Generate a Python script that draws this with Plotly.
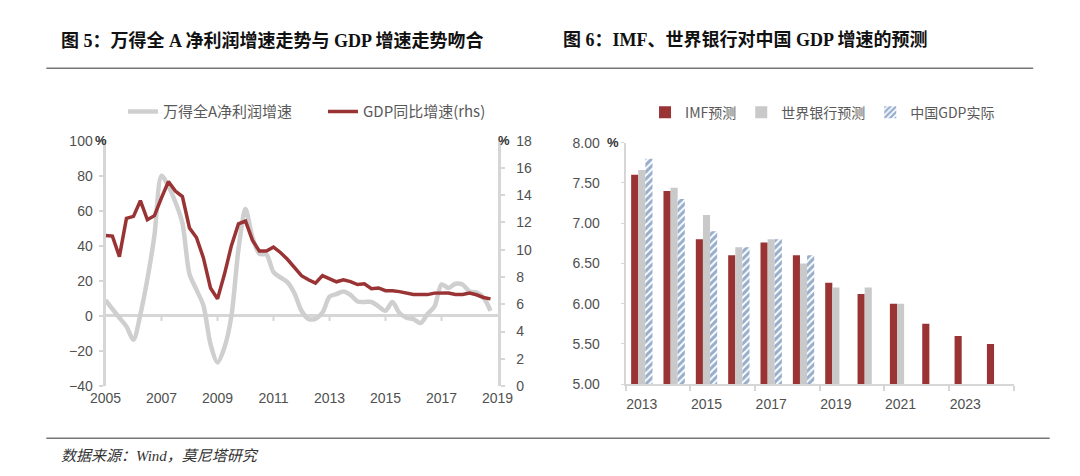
import plotly.graph_objects as go
import pandas as pd

W, H = 1080, 476

# ---------------- Data: left chart (quarterly, 2005Q1 - 2018Q4) ----------------
quarters = pd.date_range("2005-01-01", periods=56, freq="QS")
wind_a_profit_growth = [
    9, 4, -1, -6, -13.5, 1, 21, 46, 80, 74, 65, 53,
    24, 15, 6, -16, -26.5, -18, 0, 38, 61, 45, 35.5, 35,
    25, 22, 19.3, 13, 3, -1.7, -1.6, 2, 11, 12.5, 14, 12,
    8.3, 8, 8, 5.5, 3, 8, 1.7, -1, -1.8, -4, 1, 5.5,
    18, 16, 18.4, 18, 14, 13.5, 10.5, 3,
]
gdp_yoy = [
    11.05, 11.0, 9.5, 12.3, 12.45, 13.6, 12.2, 12.5, 13.8, 15.0, 14.3, 13.9,
    11.6, 10.9, 9.4, 7.2, 6.4, 8.2, 10.3, 11.9, 12.1, 10.7, 9.9, 9.9,
    10.2, 9.8, 9.3, 8.7, 8.1, 7.8, 7.55, 8.1, 7.85, 7.65, 7.8, 7.66,
    7.45, 7.5, 7.15, 7.2, 7.0, 7.0, 6.93, 6.85, 6.72, 6.71, 6.71, 6.82,
    6.83, 6.83, 6.72, 6.72, 6.82, 6.7, 6.5, 6.4,
]
left_year_ticks = ["2005", "2007", "2009", "2011", "2013", "2015", "2017", "2019"]

# ---------------- Data: right chart ----------------
years = [2013, 2014, 2015, 2016, 2017, 2018, 2019, 2020, 2021, 2022, 2023, 2024]
imf_forecast = [7.6, 7.4, 6.8, 6.6, 6.76, 6.6, 6.26, 6.12, 6.0, 5.75, 5.6, 5.5]
wb_forecast = [7.66, 7.44, 7.1, 6.7, 6.8, 6.5, 6.2, 6.2, 6.0, None, None, None]
gdp_actual = [7.8, 7.3, 6.9, 6.7, 6.8, 6.6, None, None, None, None, None, None]
right_year_ticks = [2013, 2015, 2017, 2019, 2021, 2023]

RED = "#993334"
GRAY_LINE = "#cfcfcf"
GRAY_BAR = "#c9c9c9"
BLUE = "#2f5c98"
AXIS = "#d6d6d6"
TICKFONT = dict(family="Liberation Sans, Arial", size=14, color="#505050")
CJK = "Noto Sans CJK SC"


def px_x(p):
    return p / W


def px_y(p):
    return 1 - p / H


fig = go.Figure()

fig.add_trace(go.Scatter(
    x=quarters, y=wind_a_profit_growth, name="万得全A净利润增速",
    mode="lines", line=dict(color=GRAY_LINE, width=4.5, shape="spline", smoothing=0.8),
    xaxis="x", yaxis="y", legend="legend",
))
fig.add_trace(go.Scatter(
    x=quarters, y=gdp_yoy, name="GDP同比增速(rhs)",
    mode="lines", line=dict(color=RED, width=3.5),
    xaxis="x", yaxis="y2", legend="legend",
))

fig.add_trace(go.Bar(
    x=years, y=imf_forecast, name="IMF预测", marker=dict(color=RED, line_width=0),
    xaxis="x3", yaxis="y3", legend="legend2",
))
fig.add_trace(go.Bar(
    x=years, y=wb_forecast, name="世界银行预测", marker=dict(color=GRAY_BAR, line_width=0),
    xaxis="x3", yaxis="y3", legend="legend2",
))
fig.add_trace(go.Bar(
    x=years, y=gdp_actual, name="中国GDP实际",
    marker=dict(color="white", line_width=0,
                pattern=dict(shape="/", fgcolor=BLUE, bgcolor="white", size=5, solidity=0.6)),
    xaxis="x3", yaxis="y3", legend="legend2",
))

left_dom = [px_x(84), px_x(488)]
left_ydom = [px_y(383), px_y(129)]
right_dom = [px_x(620), px_x(1020)]
right_ydom = [px_y(381), px_y(131)]

fig.update_layout(
    width=W, height=H,
    margin=dict(l=0, r=0, t=0, b=0),
    paper_bgcolor="white", plot_bgcolor="white",
    showlegend=True,
    barmode="group", bargap=0.34, bargroupgap=0,
    xaxis=dict(
        domain=left_dom, type="date", anchor="y",
        range=["2005-01-01", "2019-01-01"],
        tickvals=[f"{y}-01-01" for y in left_year_ticks], ticktext=left_year_ticks,
        showline=False, ticks="", showgrid=False, zeroline=False,
        tickfont=TICKFONT, ticklabelstandoff=2,
    ),
    yaxis=dict(
        domain=left_ydom, range=[-40, 100], tickvals=list(range(-40, 101, 20)),
        showline=True, linecolor=AXIS, linewidth=3, ticks="outside", ticklen=4,
        tickcolor=AXIS, tickwidth=2, showgrid=False,
        zeroline=True, zerolinecolor=AXIS, zerolinewidth=2.5,
        tickfont=TICKFONT, ticklabelstandoff=3,
    ),
    yaxis2=dict(
        domain=left_ydom, range=[0, 18], tickvals=list(range(0, 19, 2)),
        overlaying="y", side="right", anchor="x",
        showline=True, linecolor=AXIS, linewidth=3, ticks="outside", ticklen=4,
        tickcolor=AXIS, tickwidth=2, showgrid=False, zeroline=False,
        tickfont=TICKFONT, ticklabelstandoff=9,
    ),
    xaxis3=dict(
        domain=right_dom, anchor="y3", range=[2012.5, 2024.5],
        tickvals=right_year_ticks, ticks="",
        minor=dict(ticks="outside", tick0=2012.5, dtick=2, ticklen=5, tickcolor=AXIS, tickwidth=1.5),
        showline=True, linecolor=AXIS, linewidth=2, showgrid=False, zeroline=False,
        tickfont=TICKFONT, ticklabelstandoff=6,
    ),
    yaxis3=dict(
        domain=right_ydom, anchor="x3", range=[5, 8],
        tickvals=[5, 5.5, 6, 6.5, 7, 7.5, 8], tickformat=".2f",
        showline=True, linecolor=AXIS, linewidth=2, ticks="outside", ticklen=3,
        tickcolor=AXIS, showgrid=False, zeroline=False,
        tickfont=TICKFONT, ticklabelstandoff=18,
    ),
    legend=dict(
        orientation="h", x=px_x(102), y=px_y(99), xanchor="left", yanchor="middle",
        font=dict(family=CJK, size=15, color="#595959"), bgcolor="rgba(0,0,0,0)",
        itemwidth=30, entrywidth=155, tracegroupgap=0,
    ),
    legend2=dict(
        orientation="h", x=px_x(640), y=px_y(100), xanchor="left", yanchor="middle",
        font=dict(family=CJK, size=14, color="#595959"), bgcolor="rgba(0,0,0,0)",
        itemwidth=30,
    ),
)

# Small tick marks on the zero line of the left chart
for y in left_year_ticks[1:-1]:
    fig.add_shape(type="line", xref="x", yref="y", x0=f"{y}-01-01", x1=f"{y}-01-01",
                  ysizemode="pixel", yanchor=0, y0=0, y1=-5,
                  line=dict(color=AXIS, width=2))

# Titles
TITLE_FONT = dict(family="Liberation Serif, " + CJK, size=18, color="#111111")
fig.add_annotation(text="<b>图 5：万得全 A 净利润增速走势与 GDP 增速走势吻合</b>",
                   xref="paper", yref="paper", x=px_x(36), y=px_y(25),
                   xanchor="left", yanchor="middle", showarrow=False, font=TITLE_FONT)
fig.add_annotation(text="<b>图 6：IMF、世界银行对中国 GDP 增速的预测</b>",
                   xref="paper", yref="paper", x=px_x(553), y=px_y(25),
                   xanchor="left", yanchor="middle", showarrow=False, font=TITLE_FONT)

# Unit labels
UNIT_FONT = dict(family="Liberation Sans, Arial", size=13, color="#333333")
fig.add_annotation(text="<b>%</b>", xref="paper", yref="paper", x=px_x(79), y=px_y(129),
                   xanchor="center", yanchor="middle", showarrow=False, font=UNIT_FONT)
fig.add_annotation(text="<b>%</b>", xref="paper", yref="paper", x=px_x(495), y=px_y(129),
                   xanchor="center", yanchor="middle", showarrow=False, font=UNIT_FONT)
fig.add_annotation(text="<b>%</b>", xref="paper", yref="paper", x=px_x(607), y=px_y(131),
                   xanchor="center", yanchor="middle", showarrow=False, font=UNIT_FONT)

# Source
fig.add_annotation(text="<i>数据来源：Wind，莫尼塔研究</i>",
                   xref="paper", yref="paper", x=px_x(36), y=px_y(455),
                   xanchor="left", yanchor="middle", showarrow=False,
                   font=dict(family="Liberation Serif, " + CJK, size=15, color="#333333"))

# Separator lines
fig.add_shape(type="line", xref="paper", yref="paper", x0=px_x(23), x1=px_x(1040),
              y0=px_y(54), y1=px_y(54), line=dict(color="#777777", width=1.5))
fig.add_shape(type="line", xref="paper", yref="paper", x0=px_x(23), x1=px_x(1057),
              y0=px_y(437), y1=px_y(437), line=dict(color="#777777", width=1.5))

fig.write_html("out.html")
